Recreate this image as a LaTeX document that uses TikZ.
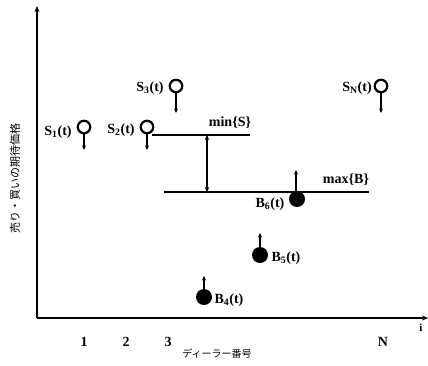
\documentclass[tikz,border=0pt]{standalone}
\usepackage{fontspec}
\setmainfont{Liberation Serif}
\newfontfamily\jpfont{Noto Sans CJK JP}
\usetikzlibrary{arrows.meta}
\tikzset{
  lbl/.style={font=\fontsize{14}{15}\selectfont\bfseries, inner sep=0pt},
  tick/.style={font=\fontsize{14}{15}\selectfont\bfseries, inner sep=0pt},
  scirc/.style={circle, draw, line width=2.2pt, minimum size=12.5pt, inner sep=0pt},
  bcirc/.style={circle, fill=black, minimum size=16pt, inner sep=0pt},
  darr/.style={line width=1.2pt, -{Stealth[length=4.5pt,width=4pt]}},
  level/.style={line width=1.4pt},
  axis/.style={line width=2pt, -{Stealth[length=6pt,width=5pt]}}
}
\begin{document}
\begin{tikzpicture}[x=1pt,y=-1pt]
\useasboundingbox (0,0) rectangle (428,365);
% axes
\coordinate (o) at (37,318);
\coordinate (ytop) at (37,6);
\coordinate (xend) at (428,318);
\draw[axis] (o) -- (ytop);
\draw[axis] (o) -- (xend);
\node[font=\fontsize{11}{11}\selectfont\bfseries, inner sep=0pt] (i) at (421,328) {i};
% ticks
\node[tick] (t1) at (84,342) {1};
\node[tick] (t2) at (126,342) {2};
\node[tick] (t3) at (168,342) {3};
\node[tick] (tN) at (383,342) {N};
\node[font=\jpfont\fontsize{10}{10}\selectfont, inner sep=0pt] (xl) at (217,354) {ディーラー番号};
\node[font=\jpfont\fontsize{11}{11}\selectfont, rotate=90, inner sep=0pt] (yl) at (15,178) {売り・買いの期待価格};
% sellers
\node[scirc] (s1) at (84,127) {};
\node[scirc] (s2) at (147,127) {};
\node[scirc] (s3) at (176,86) {};
\node[scirc] (sN) at (381,86) {};
\coordinate (s1e) at (84,150);
\coordinate (s2e) at (147,150);
\coordinate (s3e) at (176,113);
\coordinate (sNe) at (381,113);
\draw[darr] (s1.south) -- (s1e);
\draw[darr] (s2.south) -- (s2e);
\draw[darr] (s3.south) -- (s3e);
\draw[darr] (sN.south) -- (sNe);
\node[lbl] (s1l) at (58,132) {S\textsubscript{1}(t)};
\node[lbl] (s2l) at (121,130) {S\textsubscript{2}(t)};
\node[lbl] (s3l) at (150,88) {S\textsubscript{3}(t)};
\node[lbl] (sNl) at (357,88) {S\textsubscript{N}(t)};
% min / max levels
\coordinate (mina) at (152,135);
\coordinate (minb) at (250,135);
\coordinate (maxa) at (164,192);
\coordinate (maxb) at (369,192);
\draw[level] (mina) -- (minb);
\draw[level] (maxa) -- (maxb);
\node[lbl] (minl) at (230,123) {min\{S\}};
\node[lbl] (maxl) at (346,180) {max\{B\}};
\coordinate (gapt) at (207,135);
\coordinate (gapb) at (207,192);
\draw[line width=1.6pt, {Stealth[length=5pt,width=4.5pt]}-{Stealth[length=5pt,width=4.5pt]}] (gapt) -- (gapb);
% buyers
\node[bcirc] (b6) at (297,199) {};
\node[bcirc] (b5) at (260,255) {};
\node[bcirc] (b4) at (204,297) {};
\coordinate (b6e) at (296,170);
\coordinate (b5e) at (260,233);
\coordinate (b4e) at (204,276);
\draw[darr] (296,192) -- (b6e);
\draw[darr] (b5.north) -- (b5e);
\draw[darr] (b4.north) -- (b4e);
\node[lbl] (b6l) at (270,204) {B\textsubscript{6}(t)};
\node[lbl] (b5l) at (286,258) {B\textsubscript{5}(t)};
\node[lbl] (b4l) at (229,300) {B\textsubscript{4}(t)};
\end{tikzpicture}
\end{document}
